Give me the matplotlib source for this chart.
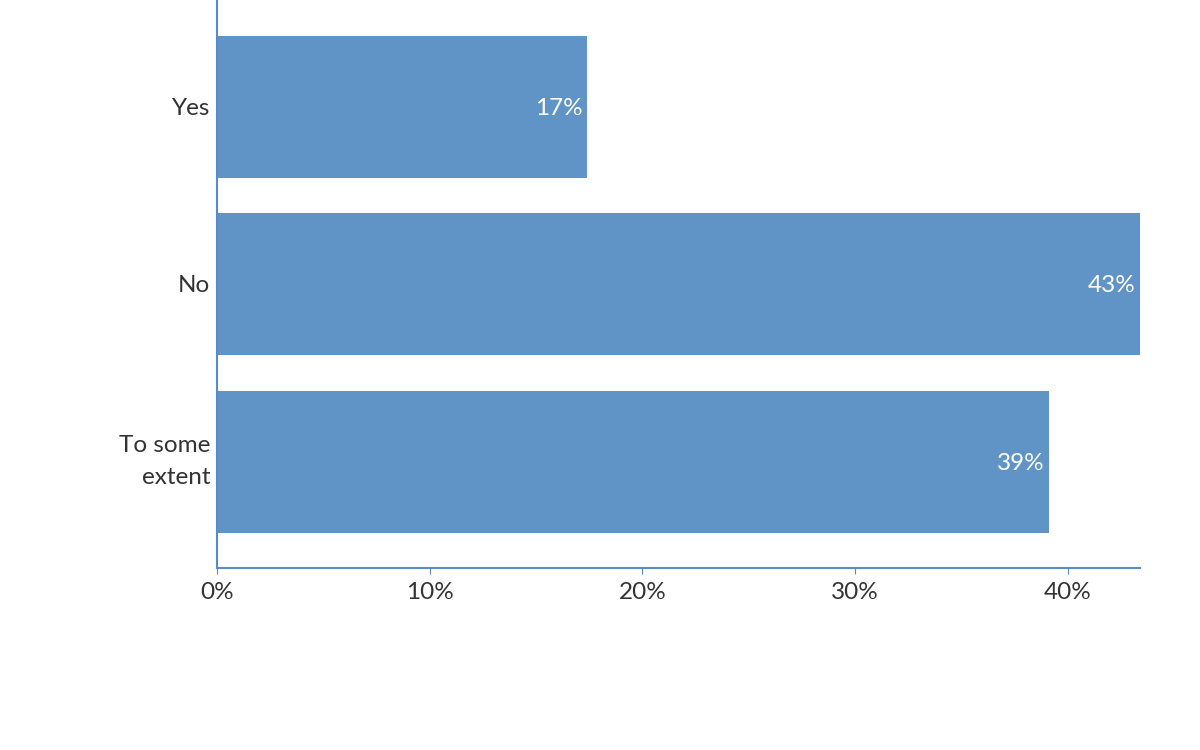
import matplotlib
matplotlib.use("Agg")
import matplotlib.pyplot as plt
from matplotlib.ticker import FuncFormatter

categories = ["Yes", "No", "To some\nextent"]
values = [17.4, 43.4, 39.1]
ticks = [0, 10, 20, 30, 40]

BAR = "#6194c6"
AXIS = "#5b8ac4"
TEXT = "#333333"
FS = 17.5

plt.rcParams["font.family"] = ["Lato", "DejaVu Sans"]

fig = plt.figure(figsize=(12, 7.5), dpi=100)
ax = fig.add_axes([217 / 1200, 182 / 750, 923 / 1200, 568 / 750])

pos = list(range(len(categories)))
ax.barh(pos, values, height=0.8, color=BAR)
ax.set_ylim(2.6, -0.6)
ax.set_xlim(0, max(values))

for p, v in zip(pos, values):
    ax.text(v - 0.2, p, f"{v:.0f}%", ha="right", va="center_baseline",
            color="white", fontsize=FS)

ax.set_yticks(pos)
ax.set_yticklabels(categories, fontsize=FS, color=TEXT, linespacing=1.6)
for lbl in ax.get_yticklabels():
    # multi-line label sits a bit high in the original
    lbl.set_verticalalignment("center" if "\n" in lbl.get_text() else "center_baseline")
ax.tick_params(axis="y", length=0, pad=5)
ax.set_xticks(ticks)
ax.xaxis.set_major_formatter(FuncFormatter(lambda x, _: f"{x:.0f}%"))
ax.tick_params(axis="x", length=4, color=AXIS, labelsize=FS,
               labelcolor=TEXT, pad=6)

for s in ["top", "right"]:
    ax.spines[s].set_visible(False)
for s in ["left", "bottom"]:
    ax.spines[s].set_color(AXIS)
    ax.spines[s].set_linewidth(1.5)

fig.savefig("out.png", dpi=100)
